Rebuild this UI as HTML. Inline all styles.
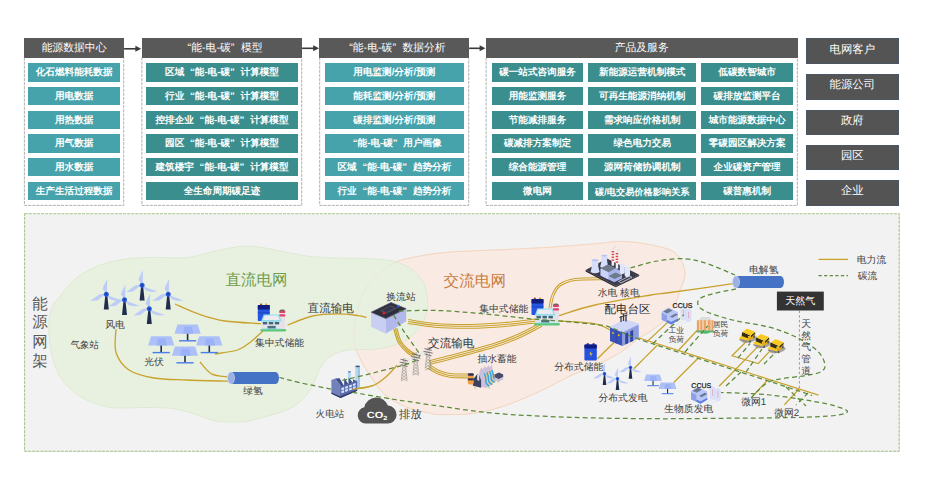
<!DOCTYPE html>
<html lang="zh"><head><meta charset="utf-8"><title>能-电-碳</title>
<style>
html,body{margin:0;padding:0;background:#fff;}
body{width:925px;height:490px;position:relative;overflow:hidden;font-family:"Liberation Sans",sans-serif;text-rendering:geometricPrecision;}
.hd{position:absolute;background:#595959;color:#fff;font-size:10.8px;line-height:21px;height:19.5px;text-align:center;white-space:nowrap;overflow:hidden;}
.t{position:absolute;height:18.25px;line-height:20.2px;color:#fff;font-size:9.6px;font-weight:bold;text-align:center;white-space:nowrap;overflow:hidden;}
.l{background:#47a3ab;}
.d{background:#3b8e8e;}
.r{position:absolute;left:805.75px;width:93.2px;height:25.5px;line-height:25.5px;background:#545454;color:#fff;font-size:11.4px;text-align:center;box-sizing:border-box;border:1px dashed #46566c;}
.r span{position:relative;top:-1.6px;}
.lb{position:absolute;white-space:nowrap;color:#404040;transform:translate(-50%,-50%);line-height:1;margin-top:calc(0.08em + 0.5px);}
#panel{position:absolute;left:24px;top:213.5px;width:875.5px;height:238px;background:#f2f2f2;}
svg{position:absolute;left:0;top:0;}
.q1{margin-left:.6em}.q2{margin-right:.6em}
</style></head><body>

<div class="hd" style="left:24px;top:38px;width:100.1px">能源数据中心</div>
<div class="t l" style="left:28.4px;top:63.25px;width:91.5px">化石燃料能耗数据</div>
<div class="t l" style="left:28.4px;top:86.75px;width:91.5px">用电数据</div>
<div class="t l" style="left:28.4px;top:110.5px;width:91.5px">用热数据</div>
<div class="t l" style="left:28.4px;top:134.25px;width:91.5px">用气数据</div>
<div class="t l" style="left:28.4px;top:157.5px;width:91.5px">用水数据</div>
<div class="t l" style="left:28.4px;top:181.5px;width:91.5px">生产生活过程数据</div>
<div class="hd" style="left:141.5px;top:38px;width:160.6px"><span class="q1">“</span>能-电-碳<span class="q2">”</span>模型</div>
<div class="t d" style="left:146px;top:63.25px;width:152px">区域<span class="q1">“</span>能-电-碳<span class="q2">”</span>计算模型</div>
<div class="t d" style="left:146px;top:86.75px;width:152px">行业<span class="q1">“</span>能-电-碳<span class="q2">”</span>计算模型</div>
<div class="t d" style="left:146px;top:110.5px;width:152px">控排企业<span class="q1">“</span>能-电-碳<span class="q2">”</span>计算模型</div>
<div class="t d" style="left:146px;top:134.25px;width:152px">园区<span class="q1">“</span>能-电-碳<span class="q2">”</span>计算模型</div>
<div class="t d" style="left:146px;top:157.5px;width:152px">建筑楼宇<span class="q1">“</span>能-电-碳<span class="q2">”</span>计算模型</div>
<div class="t d" style="left:146px;top:181.5px;width:152px">全生命周期碳足迹</div>
<div class="hd" style="left:319.3px;top:38px;width:149.8px"><span class="q1">“</span>能-电-碳<span class="q2">”</span>数据分析</div>
<div class="t l" style="left:325px;top:63.25px;width:138.75px">用电监测/分析/预测</div>
<div class="t l" style="left:325px;top:86.75px;width:138.75px">能耗监测/分析/预测</div>
<div class="t l" style="left:325px;top:110.5px;width:138.75px">碳排监测/分析/预测</div>
<div class="t l" style="left:325px;top:134.25px;width:138.75px"><span class="q1">“</span>能-电-碳<span class="q2">”</span>用户画像</div>
<div class="t l" style="left:325px;top:157.5px;width:138.75px">区域<span class="q1">“</span>能-电-碳<span class="q2">”</span>趋势分析</div>
<div class="t l" style="left:325px;top:181.5px;width:138.75px">行业<span class="q1">“</span>能-电-碳<span class="q2">”</span>趋势分析</div>
<div class="hd" style="left:485.7px;top:38px;width:312.05px">产品及服务</div>
<div class="t d" style="left:492px;top:63.25px;width:91px">碳一站式咨询服务</div>
<div class="t d" style="left:588.25px;top:63.25px;width:108px">新能源运营机制模式</div>
<div class="t d" style="left:701.25px;top:63.25px;width:91.75px">低碳数智城市</div>
<div class="t d" style="left:492px;top:86.75px;width:91px">用能监测服务</div>
<div class="t d" style="left:588.25px;top:86.75px;width:108px">可再生能源消纳机制</div>
<div class="t d" style="left:701.25px;top:86.75px;width:91.75px">碳排放监测平台</div>
<div class="t d" style="left:492px;top:110.5px;width:91px">节能减排服务</div>
<div class="t d" style="left:588.25px;top:110.5px;width:108px">需求响应价格机制</div>
<div class="t d" style="left:701.25px;top:110.5px;width:91.75px">城市能源数据中心</div>
<div class="t d" style="left:492px;top:134.25px;width:91px">碳减排方案制定</div>
<div class="t d" style="left:588.25px;top:134.25px;width:108px">绿色电力交易</div>
<div class="t d" style="left:701.25px;top:134.25px;width:91.75px">零碳园区解决方案</div>
<div class="t d" style="left:492px;top:157.5px;width:91px">综合能源管理</div>
<div class="t d" style="left:588.25px;top:157.5px;width:108px">源网荷储协调机制</div>
<div class="t d" style="left:701.25px;top:157.5px;width:91.75px">企业碳资产管理</div>
<div class="t d" style="left:492px;top:181.5px;width:91px">微电网</div>
<div class="t d" style="left:588.25px;top:181.5px;width:108px;font-size:9.2px">碳/电交易价格影响关系</div>
<div class="t d" style="left:701.25px;top:181.5px;width:91.75px">碳普惠机制</div>
<div class="r" style="top:38.25px"><span>电网客户</span></div>
<div class="r" style="top:74px"><span>能源公司</span></div>
<div class="r" style="top:109.75px"><span>政府</span></div>
<div class="r" style="top:144.75px"><span>园区</span></div>
<div class="r" style="top:180px"><span>企业</span></div>
<div id="panel"></div>
<svg width="925" height="490" viewBox="0 0 925 490">
<path d="M124.1,48.8 H137.5" stroke="#3a3a3a" stroke-width="1.6" fill="none"/><path d="M141.2,48.8 l-5.8,-3 v6z" fill="#3a3a3a"/>
<path d="M302.1,48.3 H315.3" stroke="#3a3a3a" stroke-width="1.6" fill="none"/><path d="M319,48.3 l-5.8,-3 v6z" fill="#3a3a3a"/>
<path d="M469.1,48.3 H481.7" stroke="#3a3a3a" stroke-width="1.6" fill="none"/><path d="M485.4,48.3 l-5.8,-3 v6z" fill="#3a3a3a"/>
<path d="M24.4,57.5 V205.4 H123.7 V57.5" fill="none" stroke="#8f8f8f" stroke-width="0.7" stroke-dasharray="3.1 1"/>
<path d="M141.9,57.5 V205.4 H301.7 V57.5" fill="none" stroke="#8f8f8f" stroke-width="0.7" stroke-dasharray="3.1 1"/>
<path d="M319.7,57.5 V205.4 H468.7 V57.5" fill="none" stroke="#8f8f8f" stroke-width="0.7" stroke-dasharray="3.1 1"/>
<path d="M486.1,57.5 V205.4 H797.35 V57.5" fill="none" stroke="#8f8f8f" stroke-width="0.7" stroke-dasharray="3.1 1"/>
<rect x="24.6" y="213.7" width="874.6" height="237.6" fill="none" stroke="#8fb86e" stroke-width="0.8" stroke-dasharray="3.1 1"/>
<path d="M354.0,335.0 C354.4,328.9 355.7,317.5 357.5,310.0 C359.3,302.5 361.7,295.8 365.0,290.0 C368.3,284.2 372.5,279.6 377.5,275.0 C382.5,270.4 388.8,265.5 395.0,262.5 C401.2,259.5 406.7,258.7 415.0,257.0 C423.3,255.3 431.7,253.7 445.0,252.5 C458.3,251.3 478.3,250.8 495.0,250.0 C511.7,249.2 528.3,248.5 545.0,247.5 C561.7,246.5 582.5,244.8 595.0,243.8 C607.5,242.8 611.7,241.5 620.0,241.5 C628.3,241.5 636.7,242.3 645.0,243.8 C653.3,245.2 664.0,247.3 670.0,250.0 C676.0,252.7 678.5,255.8 681.0,260.0 C683.5,264.2 685.2,270.0 685.0,275.0 C684.8,280.0 681.7,285.0 680.0,290.0 C678.3,295.0 677.6,300.0 675.0,305.0 C672.4,310.0 668.5,315.7 664.5,320.0 C660.5,324.3 655.3,327.9 651.0,331.0 C646.7,334.1 642.8,335.5 638.5,338.5 C634.2,341.5 630.6,345.2 625.0,349.0 C619.4,352.8 614.2,356.5 605.0,361.0 C595.8,365.5 580.0,371.4 570.0,376.0 C560.0,380.6 553.3,384.8 545.0,388.8 C536.7,392.8 528.3,396.7 520.0,400.0 C511.7,403.3 503.3,406.5 495.0,408.8 C486.7,411.0 479.2,412.8 470.0,413.8 C460.8,414.7 446.9,414.6 440.0,414.5 C433.1,414.4 434.4,414.3 428.7,413.0 C423.0,411.7 413.3,409.9 406.0,406.9 C398.7,403.9 390.6,399.8 384.8,394.8 C379.0,389.8 375.1,382.8 371.1,377.0 C367.1,371.2 363.6,365.3 361.0,360.2 C358.4,355.1 356.5,350.8 355.3,346.6 C354.1,342.4 353.6,341.1 354.0,335.0Z" fill="#f9ebe3" stroke="#f5cdb2" stroke-width="0.8"/>
<path d="M49.0,320.0 C49.5,313.3 51.3,308.8 53.0,305.0 C54.7,301.2 55.5,301.7 59.0,297.5 C62.5,293.3 68.2,285.0 74.0,280.0 C79.8,275.0 86.5,270.8 94.0,267.5 C101.5,264.2 109.8,261.7 119.0,260.0 C128.2,258.3 137.8,257.9 149.0,257.5 C160.2,257.1 176.1,258.4 186.5,257.5 C196.9,256.6 204.2,253.6 211.5,252.0 C218.8,250.4 224.0,249.0 230.0,248.0 C236.0,247.0 241.7,246.0 247.5,246.0 C253.3,246.0 257.9,246.8 265.0,248.0 C272.1,249.2 281.7,251.5 290.0,253.0 C298.3,254.5 306.7,256.2 315.0,257.0 C323.3,257.8 331.7,257.8 340.0,258.0 C348.3,258.2 356.7,258.1 365.0,258.5 C373.3,258.9 382.9,259.2 390.0,260.5 C397.1,261.8 402.5,263.7 407.5,266.5 C412.5,269.3 416.9,273.6 420.0,277.5 C423.1,281.4 424.8,285.4 426.0,290.0 C427.2,294.6 427.8,300.0 427.5,305.0 C427.2,310.0 426.1,315.3 424.0,320.0 C421.9,324.7 419.0,329.2 415.0,333.0 C411.0,336.8 406.2,340.3 400.0,343.0 C393.8,345.7 384.9,347.9 377.5,349.0 C370.1,350.1 360.9,349.2 355.3,349.5 C349.7,349.8 347.5,349.9 343.6,350.9 C339.7,351.9 335.4,353.3 332.0,355.3 C328.6,357.3 325.7,360.0 323.3,363.1 C320.9,366.2 319.3,370.1 317.5,373.8 C315.7,377.5 314.7,381.5 312.6,385.4 C310.5,389.3 308.1,393.4 304.9,397.0 C301.7,400.6 297.5,404.1 293.3,406.7 C289.1,409.3 284.9,410.7 279.7,412.5 C274.5,414.3 267.8,416.0 262.0,417.5 C256.2,419.0 250.7,420.8 245.0,421.5 C239.3,422.2 233.6,422.2 228.0,422.0 C222.4,421.8 217.2,421.4 211.5,420.0 C205.8,418.6 200.2,415.6 194.0,413.8 C187.8,411.9 181.5,409.8 174.0,408.8 C166.5,407.7 159.4,407.7 149.0,407.5 C138.6,407.3 121.9,408.8 111.5,407.5 C101.1,406.2 93.6,403.3 86.5,400.0 C79.4,396.7 74.0,392.5 69.0,387.5 C64.0,382.5 59.7,377.1 56.5,370.0 C53.3,362.9 51.2,353.3 50.0,345.0 C48.8,336.7 48.5,326.7 49.0,320.0Z" fill="#e7f0de" fill-opacity="0.95" stroke="#d6e6c8" stroke-width="0.7"/>
<path d="M354.0,335.0 C354.4,328.9 355.7,317.5 357.5,310.0 C359.3,302.5 361.7,295.8 365.0,290.0 C368.3,284.2 372.5,279.6 377.5,275.0 C382.5,270.4 388.8,265.5 395.0,262.5 C401.2,259.5 406.7,258.7 415.0,257.0 C423.3,255.3 431.7,253.7 445.0,252.5 C458.3,251.3 478.3,250.8 495.0,250.0 C511.7,249.2 528.3,248.5 545.0,247.5 C561.7,246.5 582.5,244.8 595.0,243.8 C607.5,242.8 611.7,241.5 620.0,241.5 C628.3,241.5 636.7,242.3 645.0,243.8 C653.3,245.2 664.0,247.3 670.0,250.0 C676.0,252.7 678.5,255.8 681.0,260.0 C683.5,264.2 685.2,270.0 685.0,275.0 C684.8,280.0 681.7,285.0 680.0,290.0 C678.3,295.0 677.6,300.0 675.0,305.0 C672.4,310.0 668.5,315.7 664.5,320.0 C660.5,324.3 655.3,327.9 651.0,331.0 C646.7,334.1 642.8,335.5 638.5,338.5 C634.2,341.5 630.6,345.2 625.0,349.0 C619.4,352.8 614.2,356.5 605.0,361.0 C595.8,365.5 580.0,371.4 570.0,376.0 C560.0,380.6 553.3,384.8 545.0,388.8 C536.7,392.8 528.3,396.7 520.0,400.0 C511.7,403.3 503.3,406.5 495.0,408.8 C486.7,411.0 479.2,412.8 470.0,413.8 C460.8,414.7 446.9,414.6 440.0,414.5 C433.1,414.4 434.4,414.3 428.7,413.0 C423.0,411.7 413.3,409.9 406.0,406.9 C398.7,403.9 390.6,399.8 384.8,394.8 C379.0,389.8 375.1,382.8 371.1,377.0 C367.1,371.2 363.6,365.3 361.0,360.2 C358.4,355.1 356.5,350.8 355.3,346.6 C354.1,342.4 353.6,341.1 354.0,335.0Z" fill="none" stroke="#f3d9c4" stroke-opacity="0.55" stroke-width="0.7"/>
<path d="M175.0,304.0 C179.2,305.8 191.7,311.7 200.0,314.5 C208.3,317.3 214.8,319.5 225.0,321.0 C235.2,322.5 255.0,323.2 261.0,323.7" fill="none" stroke="#c9a22d" stroke-width="1.3"/>
<path d="M215.0,354.0 C218.8,353.3 231.7,351.9 237.5,350.0 C243.3,348.1 245.8,345.7 250.0,342.5 C254.2,339.3 260.8,332.9 263.0,331.0" fill="none" stroke="#c9a22d" stroke-width="1.3"/>
<path d="M116.0,329.0 C116.0,332.9 113.8,345.7 116.0,352.5 C118.2,359.3 122.7,365.8 129.0,370.0 C135.3,374.2 144.4,376.3 154.0,378.0 C163.6,379.7 174.2,379.5 186.5,380.0 C198.8,380.5 221.1,381.0 228.0,381.2" fill="none" stroke="#c9a22d" stroke-width="1.3"/>
<path d="M200.0,362.0 C201.9,364.0 206.8,371.2 211.5,373.8 C216.2,376.2 225.2,376.5 228.0,377.0" fill="none" stroke="#c9a22d" stroke-width="1.3"/>
<path d="M287.5,325.0 C291.7,323.5 304.2,317.9 312.5,316.0 C320.8,314.1 329.9,313.8 337.5,313.8 C345.1,313.7 353.2,315.0 358.0,315.6 C362.8,316.2 365.1,317.0 366.5,317.3" fill="none" stroke="#c9a22d" stroke-width="1.3"/>
<path d="M408.3,319.6 C412.7,320.2 424.9,322.6 435.1,323.4 C445.4,324.2 458.4,324.5 470.0,324.4 C481.6,324.3 493.9,323.5 504.8,322.6 C515.8,321.7 530.6,319.7 535.8,319.1" fill="none" stroke="#c9a22d" stroke-width="1.05"/>
<path d="M408.0,321.5 C412.5,322.1 424.7,324.5 435.0,325.3 C445.3,326.1 458.3,326.4 470.0,326.3 C481.7,326.2 494.0,325.4 505.0,324.5 C516.0,323.6 530.8,321.6 536.0,321.0" fill="none" stroke="#c9a22d" stroke-width="1.05"/>
<path d="M407.7,323.4 C412.3,324.0 424.5,326.4 434.9,327.2 C445.2,328.0 458.3,328.3 470.0,328.2 C481.7,328.1 494.1,327.3 505.2,326.4 C516.2,325.5 531.0,323.5 536.2,322.9" fill="none" stroke="#c9a22d" stroke-width="1.05"/>
<path d="M396.8,328.0 C397.5,330.2 399.0,337.5 401.0,341.2 C403.1,345.0 406.7,348.0 409.3,350.3 C412.0,352.7 415.6,354.4 416.8,355.2" fill="none" stroke="#c9a22d" stroke-width="1.15"/>
<path d="M395.3,328.5 C396.0,330.8 397.5,338.2 399.7,342.0 C401.9,345.8 405.6,349.1 408.3,351.5 C411.0,353.9 414.7,355.7 416.0,356.5" fill="none" stroke="#c9a22d" stroke-width="1.15"/>
<path d="M393.8,329.0 C394.6,331.3 396.1,338.8 398.4,342.8 C400.6,346.7 404.5,350.2 407.3,352.7 C410.1,355.2 413.8,356.9 415.2,357.8" fill="none" stroke="#c9a22d" stroke-width="1.15"/>
<path d="M428.7,360.7 C432.2,359.8 438.6,358.5 449.5,355.6 C460.5,352.7 482.6,346.9 494.4,343.2 C506.2,339.5 512.6,336.7 520.2,333.3 C527.8,329.9 536.8,324.6 540.1,322.8" fill="none" stroke="#c9a22d" stroke-width="1.05"/>
<path d="M429.2,362.5 C432.7,361.6 439.0,360.3 450.0,357.4 C461.0,354.5 483.2,348.7 495.0,345.0 C506.8,341.3 513.3,338.4 521.0,335.0 C528.7,331.6 537.7,326.2 541.0,324.5" fill="none" stroke="#c9a22d" stroke-width="1.05"/>
<path d="M429.7,364.3 C433.1,363.5 439.5,362.2 450.5,359.2 C461.5,356.3 483.7,350.6 495.6,346.8 C507.5,343.1 514.1,340.2 521.8,336.7 C529.5,333.3 538.5,327.9 541.9,326.2" fill="none" stroke="#c9a22d" stroke-width="1.05"/>
<path d="M429.7,364.8 C431.2,365.7 435.3,368.8 438.7,370.2 C442.2,371.7 445.4,372.9 450.3,373.5 C455.1,374.2 465.1,374.0 468.1,374.1" fill="none" stroke="#c9a22d" stroke-width="1.05"/>
<path d="M428.7,366.4 C430.2,367.3 434.4,370.5 438.0,372.0 C441.6,373.5 445.0,374.7 450.0,375.4 C455.0,376.1 465.0,375.9 468.0,376.0" fill="none" stroke="#c9a22d" stroke-width="1.05"/>
<path d="M427.7,368.0 C429.3,369.0 433.6,372.2 437.3,373.8 C440.9,375.3 444.6,376.6 449.7,377.3 C454.9,378.0 464.9,377.8 467.9,377.9" fill="none" stroke="#c9a22d" stroke-width="1.05"/>
<path d="M352.2,389.0 C355.6,388.4 366.9,387.8 372.6,385.7 C378.3,383.6 382.2,380.0 386.3,376.6 C390.4,373.2 395.2,367.2 397.0,365.3" fill="none" stroke="#c9a22d" stroke-width="1.3"/>
<path d="M549.0,307.8 C549.5,305.6 550.3,298.5 552.1,294.6 C553.8,290.7 555.6,286.9 559.4,284.2 C563.2,281.5 567.6,279.6 574.9,278.5 C582.1,277.4 598.3,277.8 603.0,277.7" fill="none" stroke="#c9a22d" stroke-width="1.05"/>
<path d="M551.0,308.2 C551.5,306.1 552.3,299.1 553.9,295.4 C555.5,291.7 557.0,288.3 560.6,285.8 C564.1,283.3 568.1,281.5 575.1,280.5 C582.2,279.5 598.4,279.8 603.0,279.7" fill="none" stroke="#c9a22d" stroke-width="1.05"/>
<path d="M559.0,315.5 C565.0,313.8 579.7,308.4 595.0,305.0 C610.3,301.6 638.5,297.1 651.0,295.0 C663.5,292.9 656.3,294.4 670.0,292.5 C683.7,290.6 722.5,285.2 733.0,283.7" fill="none" stroke="#c9a22d" stroke-width="1.3"/>
<path d="M559.0,321.0 C565.0,321.5 586.2,322.1 595.0,323.8 C603.8,325.4 609.2,329.8 612.0,331.0" fill="none" stroke="#c9a22d" stroke-width="1.3"/>
<path d="M614.0,342.5 C611.2,345.2 600.2,356.0 597.5,358.8" fill="none" stroke="#c9a22d" stroke-width="1.3"/>
<path d="M636.0,337.0 C646.7,340.4 669.6,347.6 700.0,357.3 C730.4,367.0 798.8,388.9 818.5,395.2" fill="none" stroke="#c9a22d" stroke-width="1.3"/>
<path d="M647.5,341.2 C650.8,338.1 664.2,325.6 667.5,322.5" fill="none" stroke="#c9a22d" stroke-width="1.3"/>
<path d="M678.8,350.0 C681.9,346.7 694.4,333.3 697.5,330.0" fill="none" stroke="#c9a22d" stroke-width="1.3"/>
<path d="M657.5,345.0 C653.5,349.0 637.7,364.8 633.8,368.8" fill="none" stroke="#c9a22d" stroke-width="1.3"/>
<path d="M698.8,357.5 C694.6,361.7 677.9,378.3 673.8,382.5" fill="none" stroke="#c9a22d" stroke-width="1.3"/>
<path d="M757.3,347.1 L719.1,386.2" fill="none" stroke="#c9a22d" stroke-width="1.3"/>
<path d="M745.1,342.8 L732.1,355.8 L758.2,363.6 L770.3,350.6" fill="none" stroke="#c9a22d" stroke-width="1.3"/>
<path d="M766.8,381.0 C764.5,383.4 755.3,393.2 753.0,395.7" fill="none" stroke="#c9a22d" stroke-width="1.3"/>
<path d="M799.0,389.0 C796.6,391.6 786.8,402.2 784.4,404.8" fill="none" stroke="#c9a22d" stroke-width="1.3"/>
<path d="M818.5,259.4 H848" stroke="#c9a22d" stroke-width="1.3"/>
<path d="M818.5,275.6 H848" stroke="#5b8a3a" stroke-width="1.1" stroke-dasharray="3.2 2.4"/>
<path d="M799.4,310.5 V389" stroke="#9a9a9a" stroke-width="1" stroke-dasharray="2.5 2.2"/>
<g>
<polygon points="105.4,294.2 107.2,294.2 108.8,309.4 103.8,309.4" fill="#1f2c4d"/>
<polygon points="106.9,294.2 102.7,289.0 103.7,285.7 107.2,279.0" fill="#b5c5fa" fill-opacity="0.85"/>
<polygon points="106.3,293.4 99.3,294.4 90.3,300.8 97.3,300.4" fill="#b5c5fa" fill-opacity="0.85"/>
<polygon points="105.9,294.8 110.3,299.4 115.3,300.8 121.9,300.4" fill="#b5c5fa" fill-opacity="0.85"/>
<circle cx="106.3" cy="294.2" r="2.5" fill="#2b5fe3"/><circle cx="106.3" cy="294.2" r="1.1" fill="#143a9c"/>
</g>
<g>
<polygon points="123.6,299.7 125.4,299.7 127.0,314.9 122.0,314.9" fill="#1f2c4d"/>
<polygon points="125.1,299.7 120.9,294.5 121.9,291.2 125.4,284.5" fill="#b5c5fa" fill-opacity="0.85"/>
<polygon points="124.5,298.9 117.5,299.9 108.5,306.3 115.5,305.9" fill="#b5c5fa" fill-opacity="0.85"/>
<polygon points="124.1,300.3 128.5,304.9 133.5,306.3 140.1,305.9" fill="#b5c5fa" fill-opacity="0.85"/>
<circle cx="124.5" cy="299.7" r="2.5" fill="#2b5fe3"/><circle cx="124.5" cy="299.7" r="1.1" fill="#143a9c"/>
</g>
<g>
<polygon points="141.2,285.3 143.0,285.3 144.6,300.5 139.6,300.5" fill="#1f2c4d"/>
<polygon points="142.7,285.3 138.5,280.1 139.5,276.8 143.0,270.1" fill="#b5c5fa" fill-opacity="0.85"/>
<polygon points="142.1,284.5 135.1,285.5 126.1,291.9 133.1,291.5" fill="#b5c5fa" fill-opacity="0.85"/>
<polygon points="141.7,285.9 146.1,290.5 151.1,291.9 157.7,291.5" fill="#b5c5fa" fill-opacity="0.85"/>
<circle cx="142.1" cy="285.3" r="2.5" fill="#2b5fe3"/><circle cx="142.1" cy="285.3" r="1.1" fill="#143a9c"/>
</g>
<g>
<polygon points="167.3,294.2 169.1,294.2 170.7,309.4 165.7,309.4" fill="#1f2c4d"/>
<polygon points="168.8,294.2 164.6,289.0 165.6,285.7 169.1,279.0" fill="#b5c5fa" fill-opacity="0.85"/>
<polygon points="168.2,293.4 161.2,294.4 152.2,300.8 159.2,300.4" fill="#b5c5fa" fill-opacity="0.85"/>
<polygon points="167.8,294.8 172.2,299.4 177.2,300.8 183.8,300.4" fill="#b5c5fa" fill-opacity="0.85"/>
<circle cx="168.2" cy="294.2" r="2.5" fill="#2b5fe3"/><circle cx="168.2" cy="294.2" r="1.1" fill="#143a9c"/>
</g>
<g>
<polygon points="148.4,308.8 150.2,308.8 151.8,324.0 146.8,324.0" fill="#1f2c4d"/>
<polygon points="149.9,308.8 145.7,303.6 146.7,300.3 150.2,293.6" fill="#b5c5fa" fill-opacity="0.85"/>
<polygon points="149.3,308.0 142.3,309.0 133.3,315.4 140.3,315.0" fill="#b5c5fa" fill-opacity="0.85"/>
<polygon points="148.9,309.4 153.3,314.0 158.3,315.4 164.9,315.0" fill="#b5c5fa" fill-opacity="0.85"/>
<circle cx="149.3" cy="308.8" r="2.5" fill="#2b5fe3"/><circle cx="149.3" cy="308.8" r="1.1" fill="#143a9c"/>
</g>
<g>
<polygon points="603.9,373.8 605.1,373.8 606.3,384.9 602.7,384.9" fill="#1f2c4d"/>
<polygon points="604.9,373.8 601.9,370.0 602.6,367.6 605.1,362.8" fill="#b5c5fa" fill-opacity="0.85"/>
<polygon points="604.5,373.2 599.5,373.9 593.0,378.5 598.0,378.2" fill="#b5c5fa" fill-opacity="0.85"/>
<polygon points="604.2,374.2 607.4,377.5 611.0,378.5 615.7,378.2" fill="#b5c5fa" fill-opacity="0.85"/>
<circle cx="604.5" cy="373.8" r="1.8" fill="#2b5fe3"/><circle cx="604.5" cy="373.8" r="0.8" fill="#143a9c"/>
</g>
<g>
<polygon points="616.9,378.8 618.1,378.8 619.3,389.9 615.7,389.9" fill="#1f2c4d"/>
<polygon points="617.9,378.8 614.9,375.0 615.6,372.6 618.1,367.8" fill="#b5c5fa" fill-opacity="0.85"/>
<polygon points="617.5,378.2 612.5,378.9 606.0,383.5 611.0,383.2" fill="#b5c5fa" fill-opacity="0.85"/>
<polygon points="617.2,379.2 620.4,382.5 624.0,383.5 628.7,383.2" fill="#b5c5fa" fill-opacity="0.85"/>
<circle cx="617.5" cy="378.8" r="1.8" fill="#2b5fe3"/><circle cx="617.5" cy="378.8" r="0.8" fill="#143a9c"/>
</g>
<g>
<polygon points="629.9,367.5 631.1,367.5 632.3,378.7 628.7,378.7" fill="#1f2c4d"/>
<polygon points="630.9,367.5 627.9,363.8 628.6,361.4 631.1,356.6" fill="#b5c5fa" fill-opacity="0.85"/>
<polygon points="630.5,366.9 625.5,367.6 619.0,372.3 624.0,372.0" fill="#b5c5fa" fill-opacity="0.85"/>
<polygon points="630.2,367.9 633.4,371.2 637.0,372.3 641.7,372.0" fill="#b5c5fa" fill-opacity="0.85"/>
<circle cx="630.5" cy="367.5" r="1.8" fill="#2b5fe3"/><circle cx="630.5" cy="367.5" r="0.8" fill="#143a9c"/>
</g>
<g>
<polygon points="177.5,324.4 197.7,324.4 200.7,333.8 174.5,333.8" fill="#adc0f8"/>
<polygon points="184.3,326.8 191.6,326.8 193.5,333.8 183.0,333.8" fill="#9bb2f6"/>
<rect x="186.8" y="333.8" width="1.6" height="6.9" fill="#1f2c4d"/>
<rect x="179.0" y="340.1" width="17.2" height="1.4" fill="#4a7de8"/>
</g>
<g>
<polygon points="151.1,336.2 171.3,336.2 174.3,345.6 148.1,345.6" fill="#adc0f8"/>
<polygon points="157.9,338.6 165.2,338.6 167.1,345.6 156.6,345.6" fill="#9bb2f6"/>
<rect x="160.4" y="345.6" width="1.6" height="6.9" fill="#1f2c4d"/>
<rect x="152.6" y="351.9" width="17.2" height="1.4" fill="#4a7de8"/>
</g>
<g>
<polygon points="199.2,336.2 219.4,336.2 222.4,345.6 196.2,345.6" fill="#adc0f8"/>
<polygon points="206.0,338.6 213.3,338.6 215.2,345.6 204.7,345.6" fill="#9bb2f6"/>
<rect x="208.5" y="345.6" width="1.6" height="6.9" fill="#1f2c4d"/>
<rect x="200.7" y="351.9" width="17.2" height="1.4" fill="#4a7de8"/>
</g>
<g>
<polygon points="174.9,346.4 195.1,346.4 198.1,355.8 171.9,355.8" fill="#adc0f8"/>
<polygon points="181.7,348.8 189.0,348.8 190.9,355.8 180.4,355.8" fill="#9bb2f6"/>
<rect x="184.2" y="355.8" width="1.6" height="6.9" fill="#1f2c4d"/>
<rect x="176.4" y="362.1" width="17.2" height="1.4" fill="#4a7de8"/>
</g>
<g>
<polygon points="646.1,374.5 659.9,374.5 661.9,380.9 644.1,380.9" fill="#adc0f8"/>
<polygon points="650.7,376.1 655.7,376.1 657.0,380.9 649.9,380.9" fill="#9bb2f6"/>
<rect x="652.5" y="380.9" width="1.1" height="4.7" fill="#1f2c4d"/>
<rect x="647.2" y="385.2" width="11.7" height="1.0" fill="#4a7de8"/>
</g>
<g>
<polygon points="660.6,382.5 674.4,382.5 676.4,388.9 658.6,388.9" fill="#adc0f8"/>
<polygon points="665.2,384.1 670.2,384.1 671.5,388.9 664.4,388.9" fill="#9bb2f6"/>
<rect x="667.0" y="388.9" width="1.1" height="4.7" fill="#1f2c4d"/>
<rect x="661.7" y="393.2" width="11.7" height="1.0" fill="#4a7de8"/>
</g>
<path d="M231.0,372.0 H275.5 A3.5,6.0 0 0 1 275.5,384.0 H231.0 Z" fill="#4472c4"/>
<ellipse cx="231.0" cy="378.0" rx="3.5" ry="6.0" fill="#9bb1e3" stroke="#d6def3" stroke-width="0.6"/>
<path d="M736.0,276.0 H780.5 A3.5,6.0 0 0 1 780.5,288.0 H736.0 Z" fill="#4472c4"/>
<ellipse cx="736.0" cy="282.0" rx="3.5" ry="6.0" fill="#9bb1e3" stroke="#d6def3" stroke-width="0.6"/>
<g>
<rect x="260.0" y="303.6" width="2.2" height="2.0" fill="#a0522d" rx="0.8"/>
<rect x="265.2" y="303.6" width="2.2" height="2.0" fill="#d4a017" rx="0.8"/>
<rect x="257.8" y="305.0" width="12.0" height="16.0" fill="#2456e0" rx="0.8"/>
<rect x="257.8" y="305.0" width="12.0" height="4.6" fill="#101c80" rx="0.8"/>
<rect x="257.8" y="312.4" width="12.0" height="0.7" fill="#1a3fb8" rx="0"/>
<rect x="279.1" y="310.0" width="6.2" height="19.6" fill="#e7e0e7" rx="1.2"/>
<rect x="279.1" y="310.6" width="6.2" height="2.4" fill="#e8406a" rx="1"/>
<rect x="279.1" y="314.2" width="6.2" height="2.4" fill="#e8406a" rx="1"/>
<ellipse cx="282.2" cy="310.4" rx="2.6" ry="0.9" fill="#666"/>
<rect x="261.6" y="320.8" width="19.6" height="9.0" fill="#e6e4ea" rx="0"/>
<polygon points="263.6,314.6 279.0,314.6 281.6,321.6 261.0,321.6" fill="#8ddcf0"/>
<polygon points="264.6,315.4 278.0,315.4 279.6,320.0 263.0,320.0" fill="#ecebf0"/>
<rect x="262.8" y="321.9" width="4.4" height="2.5" fill="#3d6878" rx="0"/>
<rect x="268.8" y="321.9" width="4.4" height="2.5" fill="#3d6878" rx="0"/>
<rect x="274.8" y="321.9" width="4.4" height="2.5" fill="#3d6878" rx="0"/>
<rect x="267.5" y="325.9" width="8.2" height="4.0" fill="#4a7080" rx="0"/>
<rect x="260.5" y="329.0" width="25.6" height="2.6" fill="#5cc878" rx="1.3"/>
<rect x="261.6" y="328.4" width="19.6" height="0.9" fill="#9fe0f0" rx="0"/>
</g>
<g>
<rect x="533.7" y="297.6" width="2.2" height="2.0" fill="#a0522d" rx="0.8"/>
<rect x="538.9" y="297.6" width="2.2" height="2.0" fill="#d4a017" rx="0.8"/>
<rect x="531.5" y="299.0" width="12.0" height="16.0" fill="#2456e0" rx="0.8"/>
<rect x="531.5" y="299.0" width="12.0" height="4.6" fill="#101c80" rx="0.8"/>
<rect x="531.5" y="306.4" width="12.0" height="0.7" fill="#1a3fb8" rx="0"/>
<rect x="552.8" y="304.0" width="6.2" height="19.6" fill="#e7e0e7" rx="1.2"/>
<rect x="552.8" y="304.6" width="6.2" height="2.4" fill="#e8406a" rx="1"/>
<rect x="552.8" y="308.2" width="6.2" height="2.4" fill="#e8406a" rx="1"/>
<ellipse cx="555.9" cy="304.4" rx="2.6" ry="0.9" fill="#666"/>
<rect x="535.3" y="314.8" width="19.6" height="9.0" fill="#e6e4ea" rx="0"/>
<polygon points="537.3,308.6 552.7,308.6 555.3,315.6 534.7,315.6" fill="#8ddcf0"/>
<polygon points="538.3,309.4 551.7,309.4 553.3,314.0 536.7,314.0" fill="#ecebf0"/>
<rect x="536.5" y="315.9" width="4.4" height="2.5" fill="#3d6878" rx="0"/>
<rect x="542.5" y="315.9" width="4.4" height="2.5" fill="#3d6878" rx="0"/>
<rect x="548.5" y="315.9" width="4.4" height="2.5" fill="#3d6878" rx="0"/>
<rect x="541.2" y="319.9" width="8.2" height="4.0" fill="#4a7080" rx="0"/>
<rect x="534.2" y="323.0" width="25.6" height="2.6" fill="#5cc878" rx="1.3"/>
<rect x="535.3" y="322.4" width="19.6" height="0.9" fill="#9fe0f0" rx="0"/>
</g>
<g><polygon points="371.1,312.2 385.8,318.6 385.8,333.7 371.1,326.7" fill="#c9cff2"/><polygon points="385.8,318.6 406.2,308.7 406.2,321.2 385.8,333.7" fill="#b2b9ea"/><polygon points="371.1,312.2 391,302.5 406.2,308.7 385.8,318.6" fill="#2e2e3c"/><polygon points="371.1,312.2 391,302.5 406.2,308.7 385.8,318.6" fill="none" stroke="#55556a" stroke-width="0.7"/><polygon points="379.5,310.8 390.8,305.3 397.6,308.2 386.2,313.8" fill="#4b4b5e"/><polygon points="382.5,310.4 390.6,306.5 394.4,308.1 386.3,312.1" fill="#34344a"/><circle cx="383.7" cy="313.2" r="1.3" fill="#e02030"/><circle cx="398.4" cy="306.2" r="1.3" fill="#2a6af0"/></g>
<polygon points="404,360 428,349 428.5,353 404.5,364" fill="#e8e8e8" opacity="0.7"/>
<g stroke="#7d7d7d" stroke-width="0.6" fill="none" opacity="0.75">
<path d="M403.6,358.0 L401.3,380.5 M404.8,358.0 L407.1,380.5"/>
<path d="M400.6,359.3 L407.8,361.1" stroke-width="1" stroke="#4a4a4a"/>
<path d="M399.6,362.1 L408.8,363.9" stroke-width="1" stroke="#4a4a4a"/>
<path d="M400.8,364.7 L407.6,366.5" stroke-width="1" stroke="#4a4a4a"/>
<path d="M402.8,366.0 L405.9,369.0 M405.6,366.0 L402.5,369.0"/>
<path d="M402.5,369.0 L406.2,372.0 M405.9,369.0 L402.2,372.0"/>
<path d="M402.2,372.0 L406.5,375.0 M406.2,372.0 L401.9,375.0"/>
<path d="M401.9,375.0 L406.8,378.0 M406.5,375.0 L401.6,378.0"/>
<path d="M401.6,378.0 L407.2,381.0 M406.8,378.0 L401.2,381.0"/>
</g>
<g stroke="#7d7d7d" stroke-width="0.6" fill="none" opacity="0.75">
<path d="M415.2,352.4 L412.9,374.9 M416.4,352.4 L418.7,374.9"/>
<path d="M412.2,353.7 L419.4,355.5" stroke-width="1" stroke="#4a4a4a"/>
<path d="M411.2,356.5 L420.4,358.3" stroke-width="1" stroke="#4a4a4a"/>
<path d="M412.4,359.1 L419.2,360.9" stroke-width="1" stroke="#4a4a4a"/>
<path d="M414.4,360.4 L417.5,363.4 M417.2,360.4 L414.1,363.4"/>
<path d="M414.1,363.4 L417.8,366.4 M417.5,363.4 L413.8,366.4"/>
<path d="M413.8,366.4 L418.1,369.4 M417.8,366.4 L413.5,369.4"/>
<path d="M413.5,369.4 L418.4,372.4 M418.1,369.4 L413.2,372.4"/>
<path d="M413.2,372.4 L418.8,375.4 M418.4,372.4 L412.8,375.4"/>
</g>
<g stroke="#7d7d7d" stroke-width="0.6" fill="none" opacity="0.75">
<path d="M427.5,347.3 L425.2,368.6 M428.7,347.3 L431.0,368.6"/>
<path d="M424.5,348.6 L431.7,350.4" stroke-width="1" stroke="#4a4a4a"/>
<path d="M423.5,351.4 L432.7,353.2" stroke-width="1" stroke="#4a4a4a"/>
<path d="M424.7,354.0 L431.5,355.8" stroke-width="1" stroke="#4a4a4a"/>
<path d="M426.6,355.3 L429.9,358.3 M429.6,355.3 L426.3,358.3"/>
<path d="M426.3,358.3 L430.2,361.3 M429.9,358.3 L426.0,361.3"/>
<path d="M426.0,361.3 L430.5,364.3 M430.2,361.3 L425.7,364.3"/>
<path d="M425.7,364.3 L430.9,367.3 M430.5,364.3 L425.3,367.3"/>
<path d="M425.3,367.3 L431.2,370.3 M430.9,367.3 L425.0,370.3"/>
</g>
<g><rect x="347.9" y="371.6" width="3" height="10" fill="#b6d9f0"/><rect x="355.2" y="366.2" width="4.8" height="22.5" fill="#b6d9f0"/><rect x="357.8" y="366.2" width="2.2" height="22.5" fill="#9cc6e4"/><ellipse cx="349.4" cy="371.8" rx="1.5" ry="0.6" fill="#46568c"/><ellipse cx="357.6" cy="366.4" rx="2.4" ry="0.8" fill="#46568c"/><polygon points="331.4,380.1 335.2,378.4 340.4,384.9 340.4,398.1 331.4,393.8" fill="#7181ba"/><polygon points="340.4,384.9 340.4,398.1 357.1,390.8 357.1,381.4 353,379.2 353,383 348.6,377.6 348.6,384.4 344.2,377.8 344.2,386.2 339.6,378.2 335.2,378.4" fill="#3f4d8a"/><polygon points="340.4,386.4 357.1,380.6 357.1,390.8 340.4,398.1" fill="#5a69a8"/><polygon points="341.4,388.1 344.1,387.2 344.1,389.4 341.4,390.3" fill="#d6e6ff"/><polygon points="341.4,391.1 344.1,390.2 344.1,392.4 341.4,393.3" fill="#d6e6ff"/><polygon points="345.2,386.8 347.9,385.8 347.9,388.0 345.2,388.9" fill="#d6e6ff"/><polygon points="345.2,389.8 347.9,388.8 347.9,391.0 345.2,391.9" fill="#d6e6ff"/><polygon points="349.1,385.4 351.8,384.5 351.8,386.7 349.1,387.6" fill="#d6e6ff"/><polygon points="349.1,388.4 351.8,387.5 351.8,389.7 349.1,390.6" fill="#d6e6ff"/><polygon points="352.9,384.1 355.6,383.1 355.6,385.3 352.9,386.2" fill="#d6e6ff"/><polygon points="352.9,387.1 355.6,386.1 355.6,388.3 352.9,389.2" fill="#d6e6ff"/><polygon points="331.4,392.4 340.4,396.6 357.1,389.4 357.1,390.8 340.4,398.1 331.4,393.8" fill="#2f3a68"/></g>
<path d="M365.5,423.6 a8.3,8.3 0 0 1 -1.2,-16.4 a12.3,12.3 0 0 1 23.6,-1.6 a8.6,8.6 0 0 1 -0.6,18 Z" fill="#545454"/>
<g><polygon points="585.6,270.1 607,258.6 639.2,274.7 615.7,285.9" fill="#3b3b4a"/><polygon points="585.6,270.1 615.7,285.9 615.7,287.2 585.6,271.4" fill="#23232e"/><polygon points="615.7,285.9 639.2,274.7 639.2,276 615.7,287.2" fill="#2c2c38"/><path d="M591.6,260 Q595,258.6 598.6,260 Q597.3,266 599.6,272 Q595,274.4 590.6,272 Q592.8,266 591.6,260Z" fill="#d7defa"/><path d="M601.2,255.4 Q604.2,254.2 607.4,255.4 Q606.4,261 608.2,267 Q604.2,269 600.2,267 Q602.2,261 601.2,255.4Z" fill="#d7defa"/><ellipse cx="595.1" cy="260.2" rx="3.4" ry="1" fill="#b9c3ee"/><ellipse cx="604.3" cy="255.6" rx="3" ry="0.9" fill="#b9c3ee"/><rect x="611.6" y="249.7" width="2.5" height="16" fill="#f2f2f6"/><rect x="615.7" y="251.7" width="2.5" height="17" fill="#f2f2f6"/><g fill="#e0404a"><rect x="611.6" y="251" width="2.5" height="1.4"/><rect x="611.6" y="253.8" width="2.5" height="1.4"/><rect x="611.6" y="256.6" width="2.5" height="1.4"/><rect x="611.6" y="259.4" width="2.5" height="1.4"/><rect x="615.7" y="253" width="2.5" height="1.4"/><rect x="615.7" y="255.8" width="2.5" height="1.4"/><rect x="615.7" y="258.6" width="2.5" height="1.4"/><rect x="615.7" y="261.4" width="2.5" height="1.4"/></g><path d="M612.8,249.7 q0.6,-2.6 3,-3.2 M617,251.7 q0.8,-2 2.8,-2.2" stroke="#ccc" stroke-width="0.7" fill="none"/><polygon points="600.6,268.4 607.5,264.6 622,271.6 622,278.4 614.2,282.2 600.6,275.6" fill="#a9b4ee"/><polygon points="600.6,268.4 607.5,264.6 615.4,268.4 608.4,272.2" fill="#6f7a88"/><polygon points="608.6,276 615.6,272.4 622,275.4 614.6,279" fill="#6f7a88"/><polygon points="600.6,268.4 608.4,272.2 608.4,279.4 600.6,275.6" fill="#c9d2f8"/><rect x="619.8" y="263.5" width="5" height="10.4" rx="2" fill="#dfe5fb"/><rect x="624.6" y="266.5" width="5.4" height="10.4" rx="2" fill="#dfe5fb"/><path d="M618.5,281.5 l11,-5.4 l2.4,1.2 l-11,5.4z" fill="none" stroke="#e0e4f6" stroke-width="0.7"/></g>
<g><polygon points="610,327 624.5,319.5 638.7,323.5 638.7,338 622.5,346 610,341" fill="#c5cdf5"/><polygon points="610,327.6 622.5,332.2 622.5,346 610,341" fill="#3a53b8"/><polygon points="622.5,332.2 638.7,324.8 638.7,338 622.5,346" fill="#8f9de0"/><polygon points="625.2,333.6 628.2,332.2 628.2,343.2 625.2,344.6" fill="#2f469e"/><polygon points="630.2,331.3 633.2,329.9 633.2,340.9 630.2,342.3" fill="#2f469e"/><path d="M616.2,329.8 V343.5" stroke="#2a3f98" stroke-width="0.7"/><polygon points="610,327 624.5,319.5 638.7,323.5 622.5,332.2" fill="#cfd6f8"/><circle cx="613" cy="333" r="0.9" fill="#f2c21a"/><circle cx="618.8" cy="335.2" r="0.9" fill="#f2c21a"/><path d="M621,322 v-6 M623.5,321 v-7 M626,321.6 v-6.5" stroke="#3b3b4a" stroke-width="1.3"/><path d="M619.5,317.5 l8,-2.6" stroke="#3b3b4a" stroke-width="1"/></g>
<g><rect x="586.6" y="343.2" width="2.4" height="2" rx="0.8" fill="#20286a"/><rect x="592.4" y="343.2" width="2.4" height="2" rx="0.8" fill="#20286a"/><rect x="584.4" y="344.6" width="12.4" height="15.8" rx="1" fill="#2451dd"/><rect x="584.4" y="344.6" width="12.4" height="3.8" rx="1" fill="#101c80"/><path d="M591.2,351 l-1.8,3.2 h1.6 l-0.8,2.8 l2.4,-3.6 h-1.6z" fill="#f6d21a"/></g>
<g><polygon points="479.3,372 481.4,367 482.8,369.4 484.8,365.8 486.3,368.2 488.3,365 489.9,367.2 492.2,364.6 492.4,378 487,388 479.6,386.6" fill="#cdbfdc"/><polygon points="482.6,374 492.2,369.6 497,380.4 488.4,387" fill="#f3c89a"/><g stroke-width="1.5" fill="none" stroke-linecap="butt"><path d="M484.3,373.4 q2,4.6 1.6,7.4 t3.6,5.4" stroke="#29a7e9"/><path d="M486.9,372.2 q2,4.6 1.6,7.4 t3.8,5" stroke="#29a7e9"/><path d="M489.5,371 q2,4.4 1.6,7 t3.6,4.2" stroke="#29a7e9"/><path d="M491.8,370 q1.8,4 1.6,6.4 t3,3.4" stroke="#29a7e9"/></g><polygon points="472.9,379.6 477.2,374.2 479.2,375 481.1,380.6 481.1,387.7 472.9,385.8" fill="#3c4160"/><polygon points="477.2,374.2 479.2,375 479.2,381 477.2,380" fill="#e8e4ec"/><rect x="467.8" y="373.4" width="6" height="11" rx="1.6" fill="#f0a040"/><rect x="467.8" y="373.2" width="6" height="2.6" rx="1.3" fill="#2c3154"/><rect x="467.8" y="378.4" width="6" height="1.9" fill="#2c3154"/><polygon points="494.5,374.4 499,372.4 503.2,374.4 503.2,377 498.6,379.2 494.5,377.2" fill="#474c6c"/><polygon points="494.5,377.2 498.6,379.2 503.2,377 503.2,379.4 498.6,381.6 494.5,379.6" fill="#cdbfdc"/><path d="M474,387.6 l2,1 M488,387.4 l2,1 M497,381 l2.4,1.2" stroke="#9ed27a" stroke-width="0.9"/></g>
<g>
<polygon points="661.7,311.6 668.5,307.6 678.0,312.2 678.0,320.4 671.2,324.4 661.7,319.8" fill="#b9c6f8"/>
<polygon points="663.2,311.4 668.5,308.4 672.6,310.4 667.2,313.4" fill="#6a7890"/>
<polygon points="670.0,316.4 675.6,313.4 678.0,314.6 672.2,317.8" fill="#6a7890"/>
<polygon points="661.7,312.8 667.0,315.4 667.0,322.4 661.7,319.8" fill="#8f9fe8"/>
<polygon points="667.0,320.0 671.2,322.0 678.0,318.4 678.0,320.4 671.2,324.4 667.0,322.4" fill="#5d7be0"/>
<rect x="681.0" y="307.4" width="4.6" height="12.4" rx="2" fill="#dde3fb" stroke="#c3ccf3" stroke-width="0.4"/><rect x="686.2" y="309.4" width="4.8" height="12" rx="2" fill="#dde3fb" stroke="#c3ccf3" stroke-width="0.4"/>
<path d="M683.3,309.6 v7 M688.6,311.6 v7" stroke="#e58a9a" stroke-width="0.6"/>
<path d="M676.0,324.0 l9.5,-4.6 l3,1.4 l-9.5,4.8z" fill="none" stroke="#d9def8" stroke-width="0.6"/>
</g>
<g>
<polygon points="691.0,391.0 697.8,387.0 707.3,391.6 707.3,399.8 700.5,403.8 691.0,399.2" fill="#b9c6f8"/>
<polygon points="692.5,390.8 697.8,387.8 701.9,389.8 696.5,392.8" fill="#6a7890"/>
<polygon points="699.3,395.8 704.9,392.8 707.3,394.0 701.5,397.2" fill="#6a7890"/>
<polygon points="691.0,392.2 696.3,394.8 696.3,401.8 691.0,399.2" fill="#8f9fe8"/>
<polygon points="696.3,399.4 700.5,401.4 707.3,397.8 707.3,399.8 700.5,403.8 696.3,401.8" fill="#5d7be0"/>
<rect x="710.3" y="386.8" width="4.6" height="12.4" rx="2" fill="#dde3fb" stroke="#c3ccf3" stroke-width="0.4"/><rect x="715.5" y="388.8" width="4.8" height="12" rx="2" fill="#dde3fb" stroke="#c3ccf3" stroke-width="0.4"/>
<path d="M712.6,389.0 v7 M717.9,391.0 v7" stroke="#e58a9a" stroke-width="0.6"/>
<path d="M705.3,403.4 l9.5,-4.6 l3,1.4 l-9.5,4.8z" fill="none" stroke="#d9def8" stroke-width="0.6"/>
</g>
<g><polygon points="698.5,320.4 701,316.9 709.6,316.9 712,320.4" fill="#dcdcdc"/><rect x="696.9" y="320.2" width="16.6" height="10.6" fill="#e8a466"/><g fill="#f6d2b0"><rect x="699" y="320.2" width="1.3" height="10.6"/><rect x="702.2" y="320.2" width="1.6" height="10.6"/><rect x="706" y="320.2" width="2" height="10.6"/><rect x="710.4" y="320.2" width="1.2" height="10.6"/></g><rect x="696.4" y="330.4" width="17.6" height="2.2" rx="1" fill="#52b970"/><ellipse cx="705" cy="332.6" rx="4.5" ry="1.1" fill="#52b970"/></g>
<g transform="translate(747.5,335.4)">
<ellipse cx="0.8" cy="4.2" rx="8.2" ry="3.2" fill="#6a6258" opacity="0.55" transform="rotate(-12)"/>
<polygon points="0.8,2.9 7.8,-1.9 7.9,1.0 1.4,6.2" fill="#e0a812"/>
<polygon points="-7.8,1.8 -5.8,0.3 0.8,2.9 1.2,5.5 -7.8,3.4" fill="#f7c81e"/>
<polygon points="-8.1,3.3 1.2,5.6 1.2,7.1 -8.1,4.8" fill="#8d8d8d"/>
<polygon points="-5.6,-1.9 -5.0,-3.4 3.1,0.2 0.5,0.9 0.4,2.9 -5.8,0.5" fill="#3a2e10"/>
<polygon points="3.1,0.4 7.5,-3.5 7.7,-1.8 3.5,2.1" fill="#3a2e10"/>
<polygon points="-5.0,-3.5 -0.6,-6.8 7.6,-3.7 3.1,0.1" fill="#f9cb20"/>
<polygon points="0.5,1.0 3.1,0.2 3.4,2.2 0.6,3" fill="#f0bc18"/>
<ellipse cx="6.6" cy="1.3" rx="0.9" ry="1.4" fill="#555"/><ellipse cx="2.6" cy="6.1" rx="0.9" ry="1.2" fill="#555"/>
</g>
<g transform="translate(761.5,340.8)">
<ellipse cx="0.8" cy="4.2" rx="8.2" ry="3.2" fill="#6a6258" opacity="0.55" transform="rotate(-12)"/>
<polygon points="0.8,2.9 7.8,-1.9 7.9,1.0 1.4,6.2" fill="#e0a812"/>
<polygon points="-7.8,1.8 -5.8,0.3 0.8,2.9 1.2,5.5 -7.8,3.4" fill="#f7c81e"/>
<polygon points="-8.1,3.3 1.2,5.6 1.2,7.1 -8.1,4.8" fill="#8d8d8d"/>
<polygon points="-5.6,-1.9 -5.0,-3.4 3.1,0.2 0.5,0.9 0.4,2.9 -5.8,0.5" fill="#3a2e10"/>
<polygon points="3.1,0.4 7.5,-3.5 7.7,-1.8 3.5,2.1" fill="#3a2e10"/>
<polygon points="-5.0,-3.5 -0.6,-6.8 7.6,-3.7 3.1,0.1" fill="#f9cb20"/>
<polygon points="0.5,1.0 3.1,0.2 3.4,2.2 0.6,3" fill="#f0bc18"/>
<ellipse cx="6.6" cy="1.3" rx="0.9" ry="1.4" fill="#555"/><ellipse cx="2.6" cy="6.1" rx="0.9" ry="1.2" fill="#555"/>
</g>
<g transform="translate(776.0,345.9)">
<ellipse cx="0.8" cy="4.2" rx="8.2" ry="3.2" fill="#6a6258" opacity="0.55" transform="rotate(-12)"/>
<polygon points="0.8,2.9 7.8,-1.9 7.9,1.0 1.4,6.2" fill="#e0a812"/>
<polygon points="-7.8,1.8 -5.8,0.3 0.8,2.9 1.2,5.5 -7.8,3.4" fill="#f7c81e"/>
<polygon points="-8.1,3.3 1.2,5.6 1.2,7.1 -8.1,4.8" fill="#8d8d8d"/>
<polygon points="-5.6,-1.9 -5.0,-3.4 3.1,0.2 0.5,0.9 0.4,2.9 -5.8,0.5" fill="#3a2e10"/>
<polygon points="3.1,0.4 7.5,-3.5 7.7,-1.8 3.5,2.1" fill="#3a2e10"/>
<polygon points="-5.0,-3.5 -0.6,-6.8 7.6,-3.7 3.1,0.1" fill="#f9cb20"/>
<polygon points="0.5,1.0 3.1,0.2 3.4,2.2 0.6,3" fill="#f0bc18"/>
<ellipse cx="6.6" cy="1.3" rx="0.9" ry="1.4" fill="#555"/><ellipse cx="2.6" cy="6.1" rx="0.9" ry="1.2" fill="#555"/>
</g>
<rect x="776.9" y="291.6" width="46.9" height="18.9" fill="#333"/>
<path d="M279.5,377.5 C282.9,378.4 291.2,380.7 300.0,382.7 C308.8,384.7 326.7,388.2 332.0,389.3" fill="none" stroke="#5b8a3a" stroke-width="1.25" stroke-dasharray="4.8 3.2"/>
<path d="M352.5,392.4 C359.6,393.6 380.4,397.2 395.0,399.5 C409.6,401.8 423.3,403.9 440.0,406.2 C456.7,408.5 473.3,411.4 495.0,413.3 C516.7,415.2 544.0,416.4 570.0,417.3 C596.0,418.2 626.0,418.5 651.0,418.7 C676.0,418.9 696.0,418.5 720.0,418.3 C744.0,418.1 775.8,418.0 795.0,417.5 C814.2,417.0 826.2,416.5 835.0,415.5 C843.8,414.5 847.0,412.9 847.5,411.5 C848.0,410.1 842.6,408.5 838.0,407.0 C833.4,405.5 831.3,404.5 820.0,402.5 C808.7,400.5 786.5,396.7 770.0,395.0 C753.5,393.3 729.2,392.9 721.0,392.5" fill="none" stroke="#5b8a3a" stroke-width="1.25" stroke-dasharray="4.8 3.2"/>
<path d="M342.4,380.4 C347.8,379.1 363.5,375.5 375.0,372.5 C386.5,369.5 403.8,365.4 411.3,362.5 C418.9,359.6 418.8,356.4 420.3,355.2" fill="none" stroke="#5b8a3a" stroke-width="1.25" stroke-dasharray="4.8 3.2"/>
<path d="M393.6,315.1 C395.5,318.1 400.5,326.4 405.0,333.0 C409.5,339.6 417.9,351.3 420.5,355.0" fill="none" stroke="#5b8a3a" stroke-width="1.25" stroke-dasharray="4.8 3.2"/>
<path d="M398.8,311.1 C404.8,311.0 421.5,310.0 435.0,310.4 C448.5,310.8 464.2,312.1 480.0,313.5 C495.8,314.9 516.7,317.5 530.0,318.8 C543.3,320.0 548.3,320.0 560.0,321.0 C571.7,322.0 591.3,323.8 600.0,325.0 C608.7,326.2 605.3,325.6 612.0,328.0 C618.7,330.4 625.3,334.4 640.0,339.6 C654.7,344.8 684.2,353.9 700.0,359.0 C715.8,364.1 719.7,365.4 734.7,370.2 C749.7,375.0 777.1,383.8 790.0,388.0 C802.9,392.2 808.3,394.2 812.0,395.5" fill="none" stroke="#5b8a3a" stroke-width="1.25" stroke-dasharray="4.8 3.2"/>
<path d="M630.5,268.0 C635.0,266.8 648.4,262.5 657.5,261.0 C666.6,259.5 676.7,258.3 685.0,258.8 C693.3,259.2 699.2,261.0 707.5,263.8 C715.8,266.5 730.4,273.1 735.0,275.0" fill="none" stroke="#5b8a3a" stroke-width="1.25" stroke-dasharray="4.8 3.2"/>
<path d="M736.0,288.8 C730.8,290.0 711.4,293.6 705.0,296.0 C698.6,298.4 697.7,300.5 697.7,303.0 C697.7,305.5 699.2,308.2 705.0,311.0 C710.8,313.8 721.8,317.3 732.5,320.0 C743.2,322.7 758.6,324.3 769.4,327.2 C780.2,330.1 789.1,333.6 797.2,337.6 C805.3,341.7 813.4,346.9 818.0,351.5 C822.6,356.1 824.7,361.8 825.0,365.3 C825.3,368.8 823.3,370.6 819.8,372.3 C816.3,374.1 810.3,374.8 804.2,375.8 C798.1,376.8 789.1,377.4 783.3,378.4 C777.5,379.4 773.4,379.9 769.4,381.8 C765.4,383.7 762.1,387.0 759.0,389.7 C755.9,392.4 752.3,396.6 751.0,398.0" fill="none" stroke="#5b8a3a" stroke-width="1.25" stroke-dasharray="4.8 3.2"/>
<path d="M653.0,343.5 C658.1,338.7 678.7,319.6 683.8,314.8" fill="none" stroke="#5b8a3a" stroke-width="1.25" stroke-dasharray="4.8 3.2"/>
<path d="M685.0,352.0 C688.8,347.6 704.0,330.2 707.8,325.8" fill="none" stroke="#5b8a3a" stroke-width="1.25" stroke-dasharray="4.8 3.2"/>
<path d="M738.0,358.0 C740.0,355.6 748.0,345.9 750.0,343.5" fill="none" stroke="#5b8a3a" stroke-width="1.25" stroke-dasharray="4.8 3.2"/>
<path d="M746.0,372.0 C748.7,368.2 759.3,352.8 762.0,349.0" fill="none" stroke="#5b8a3a" stroke-width="1.25" stroke-dasharray="4.8 3.2"/>
<path d="M764.0,364.0 C766.0,362.0 774.0,354.0 776.0,352.0" fill="none" stroke="#5b8a3a" stroke-width="1.25" stroke-dasharray="4.8 3.2"/>
<path d="M726.0,386.0 C728.5,383.7 738.5,374.3 741.0,372.0" fill="none" stroke="#5b8a3a" stroke-width="1.25" stroke-dasharray="4.8 3.2"/>
<path d="M786.0,387.0 C789.3,390.2 802.7,402.8 806.0,406.0" fill="none" stroke="#5b8a3a" stroke-width="1.25" stroke-dasharray="4.8 3.2"/>
<path d="M808.0,393.0 C806.0,395.0 798.0,403.0 796.0,405.0" fill="none" stroke="#5b8a3a" stroke-width="1.25" stroke-dasharray="4.8 3.2"/>
<path d="M352.4,389.1 C358,388.6 366,388.4 372.6,385.7" fill="none" stroke="#c9a22d" stroke-width="1.3"/>
</svg>
<div class="lb" style="left:40px;top:303px;font-size:15.5px;color:#595959;">能</div>
<div class="lb" style="left:40px;top:321.7px;font-size:15.5px;color:#595959;">源</div>
<div class="lb" style="left:40px;top:341px;font-size:15.5px;color:#595959;">网</div>
<div class="lb" style="left:40px;top:360px;font-size:15.5px;color:#595959;">架</div>
<div class="lb" style="left:115px;top:324.5px;font-size:9.8px;color:#404040;">风电</div>
<div class="lb" style="left:84.75px;top:344.5px;font-size:9.5px;color:#404040;">气象站</div>
<div class="lb" style="left:154px;top:361.75px;font-size:9.8px;color:#404040;">光伏</div>
<div class="lb" style="left:256.5px;top:279.5px;font-size:15.5px;color:#6f9d4b;">直流电网</div>
<div class="lb" style="left:279.5px;top:343px;font-size:9.8px;color:#404040;">集中式储能</div>
<div class="lb" style="left:253px;top:391px;font-size:9.8px;color:#404040;">绿氢</div>
<div class="lb" style="left:330.75px;top:308px;font-size:11.6px;color:#404040;">直流输电</div>
<div class="lb" style="left:401px;top:297px;font-size:9.8px;color:#404040;">换流站</div>
<div class="lb" style="left:330px;top:413.3px;font-size:9.6px;color:#404040;">火电站</div>
<div class="lb" style="left:410.5px;top:414.2px;font-size:11.4px;color:#404040;">排放</div>
<div class="lb" style="left:376.6px;top:413.6px;font-size:9px;color:#fff;font-weight:bold;transform:translate(-50%,-50%) scaleX(1.22)">CO<span style="font-size:6px;position:relative;top:2px">2</span></div>
<div class="lb" style="left:474.8px;top:280px;font-size:15.6px;color:#c97a3d;">交流电网</div>
<div class="lb" style="left:451.25px;top:342.5px;font-size:11.6px;color:#333;">交流输电</div>
<div class="lb" style="left:503.75px;top:308.75px;font-size:9.8px;color:#404040;">集中式储能</div>
<div class="lb" style="left:497px;top:358.5px;font-size:9.8px;color:#404040;">抽水蓄能</div>
<div class="lb" style="left:618.75px;top:292.5px;font-size:9.8px;color:#404040;">水电 核电</div>
<div class="lb" style="left:627.5px;top:309.7px;font-size:11.5px;color:#262626;">配电台区</div>
<div class="lb" style="left:578.75px;top:367px;font-size:9.8px;color:#404040;">分布式储能</div>
<div class="lb" style="left:623px;top:397.5px;font-size:9.8px;color:#404040;">分布式发电</div>
<div class="lb" style="left:688.75px;top:408.75px;font-size:9.8px;color:#404040;">生物质发电</div>
<div class="lb" style="left:763.75px;top:269.5px;font-size:9.8px;color:#404040;">电解氢</div>
<div class="lb" style="left:800.3px;top:301.2px;font-size:10px;color:#fff;">天然气</div>
<div class="lb" style="left:806.25px;top:323.7px;font-size:9.8px;color:#404040;">天</div>
<div class="lb" style="left:806.25px;top:335.6px;font-size:9.8px;color:#404040;">然</div>
<div class="lb" style="left:806.25px;top:347.1px;font-size:9.8px;color:#404040;">气</div>
<div class="lb" style="left:806.25px;top:358.6px;font-size:9.8px;color:#404040;">管</div>
<div class="lb" style="left:806.25px;top:370.6px;font-size:9.8px;color:#404040;">道</div>
<div class="lb" style="left:682.5px;top:305.2px;font-size:7px;color:#1a1a1a;-webkit-text-stroke:0.25px #1a1a1a">CCUS</div>
<div class="lb" style="left:701.25px;top:384.5px;font-size:7px;color:#1a1a1a;-webkit-text-stroke:0.25px #1a1a1a">CCUS</div>
<div class="lb" style="left:676.2px;top:329.7px;font-size:7.8px;color:#404040;">工业</div>
<div class="lb" style="left:676.2px;top:338.9px;font-size:7.8px;color:#404040;">负荷</div>
<div class="lb" style="left:720.5px;top:324px;font-size:7.8px;color:#404040;">居民</div>
<div class="lb" style="left:720.5px;top:333.2px;font-size:7.8px;color:#404040;">负荷</div>
<div class="lb" style="left:753.75px;top:401.75px;font-size:9.8px;color:#404040;">微网1</div>
<div class="lb" style="left:786.75px;top:412.5px;font-size:9.8px;color:#404040;">微网2</div>
<div class="lb" style="left:871.5px;top:260px;font-size:9.8px;color:#404040;">电力流</div>
<div class="lb" style="left:867.6px;top:275.8px;font-size:9.8px;color:#404040;">碳流</div>
</body></html>
